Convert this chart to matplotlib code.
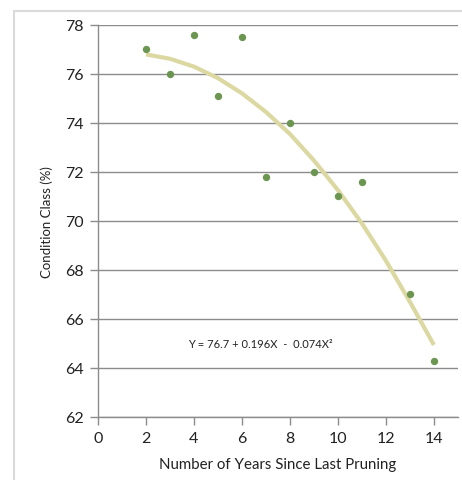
import matplotlib.pyplot as plt
from matplotlib.patches import Rectangle

# observed values
anos = [2, 3, 4, 5, 6, 7, 8, 9, 10, 11, 13, 14]
condicion = [77.0, 76.0, 77.6, 75.1, 77.5, 71.8, 74.0, 72.0, 71.0, 71.6, 67.0, 64.3]

# trend line
tend_x = [2, 3, 4, 5, 6, 7, 8, 9, 10, 11, 12, 13, 14]
tend_y = [76.8, 76.62, 76.3, 75.83, 75.21, 74.45, 73.55, 72.47, 71.26, 69.9, 68.38, 66.7, 64.94]

x_ticks = [0, 2, 4, 6, 8, 10, 12, 14]
y_ticks = [62, 64, 66, 68, 70, 72, 74, 76, 78]

plt.rcParams['font.family'] = ['Lato', 'DejaVu Sans']

fig = plt.figure(figsize=(4.62, 4.81), dpi=100)
ax = fig.add_axes([0.2121, 0.131, 0.779, 0.815])

# marco exterior gris claro
fig.patches.append(Rectangle((14 / 462, -0.02), 1.0, 1 - 12 / 481 + 0.02,
                             transform=fig.transFigure, fill=False,
                             edgecolor='#dadada', linewidth=1.5))

gris = '#8c8c8c'
for y in y_ticks:
    ax.axhline(y, color=gris, linewidth=1, zorder=1)

ax.plot(tend_x, tend_y, color='#dcd8a2', linewidth=3, solid_capstyle='butt', zorder=2)
ax.scatter(anos, condicion, s=28, color='#6b9550', zorder=3, linewidths=0)

ax.text(3.76, 64.98, 'Y = 76.7 + 0.196X  -  0.074X²', fontsize=8,
        va='center', ha='left', color='#222222')

ax.set_xlim(0, 15)
ax.set_ylim(62, 78)
ax.set_xticks(x_ticks)
ax.set_yticks(y_ticks)
ax.tick_params(axis='both', labelsize=11.5, color=gris, length=6, width=1,
               labelcolor='#222222', direction='out')
ax.tick_params(axis='y', pad=4)
ax.tick_params(axis='x', pad=4)

for lado in ['top', 'right']:
    ax.spines[lado].set_visible(False)
for lado in ['left', 'bottom']:
    ax.spines[lado].set_color(gris)
    ax.spines[lado].set_linewidth(1)

ax.set_xlabel('Number of Years Since Last Pruning', fontsize=10.8, color='#222222', labelpad=9)
ax.set_ylabel('Condition Class (%)', fontsize=9.5, color='#222222', labelpad=9)

fig.savefig('out.png', dpi=100)
